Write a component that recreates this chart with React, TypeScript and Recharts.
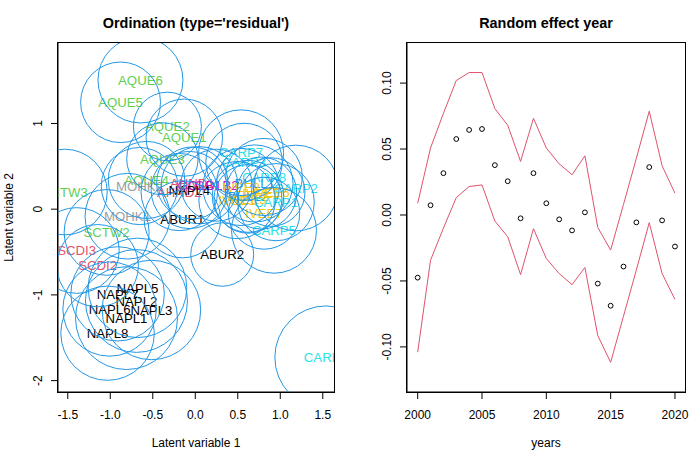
import React from 'react';
import { ComposedChart, Line, Scatter, ScatterChart, XAxis, YAxis } from 'recharts';

// ordination: site-year labels with their latent variable scores
const siteLabels = [
  'AQUE6', 'AQUE5', 'AQUE2', 'AQUE1', 'AQUE3', 'AQUE4', 'SCTW3', 'MOHK2', 'AHND2', 'AHND1',
  'GOLB1', 'GOLB2', 'NAPL4', 'CARP7', 'CARP3', 'CARP8', 'CARP2', 'BULL1', 'BULL2', 'IVEE2',
  'IVEE5', 'IVEE3', 'IVEE1', 'IVEE6', 'CARP1', 'IVEE7', 'CARP5', 'MOHK1', 'ABUR1', 'SCTW2',
  'SCDI3', 'SCDI2', 'ABUR2', 'NAPL5', 'NAPL7', 'NAPL2', 'NAPL6', 'NAPL3', 'NAPL1', 'NAPL8', 'CARP4',
];
const lv1 = [
  -0.645, -0.879, -0.328, -0.129, -0.387, -0.574, -1.536, -0.656, -0.188, -0.035,
  0.05, 0.25, -0.07, 0.539, 0.574, 0.809, 1.184, 0.7, 0.62, 0.539,
  0.774, 0.62, 0.492, 0.891, 0.95, 0.809, 0.926, -0.797, -0.152, -1.043,
  -1.395, -1.149, 0.317, -0.68, -0.914, -0.692, -1.008, -0.516, -0.809, -1.032, 1.536,
];
const lv2 = [
  1.506, 1.247, 0.965, 0.835, 0.588, 0.341, 0.2, 0.27, 0.2, 0.306,
  0.28, 0.28, 0.224, 0.659, 0.553, 0.376, 0.247, 0.3, 0.15, 0.259,
  0.188, 0.12, 0.106, 0.2, 0.082, -0.047, -0.247, -0.082, -0.118, -0.271,
  -0.482, -0.659, -0.529, -0.918, -0.988, -1.071, -1.165, -1.176, -1.271, -1.447, -1.729,
];
// approximate size of each prediction region (latent variable units)
const regionRadius = [
  0.5, 0.47, 0.4, 0.45, 0.42, 0.45, 0.5, 0.45, 0.45, 0.42,
  0.45, 0.42, 0.45, 0.5, 0.45, 0.45, 0.5, 0.45, 0.42, 0.45,
  0.42, 0.4, 0.45, 0.4, 0.45, 0.42, 0.5, 0.5, 0.45, 0.5,
  0.5, 0.48, 0.37, 0.58, 0.55, 0.6, 0.55, 0.58, 0.6, 0.55, 0.6,
];

const ordXTicks = [-1.5, -1, -0.5, 0, 0.5, 1, 1.5];
const ordYTicks = [-2, -1, 0, 1];

// year random effect with its interval
const years = [
  2000, 2001, 2002, 2003, 2004, 2005, 2006, 2007, 2008, 2009, 2010,
  2011, 2012, 2013, 2014, 2015, 2016, 2017, 2018, 2019, 2020,
];
const yearEffect = [
  -0.0475, 0.0074, 0.0317, 0.0576, 0.0645, 0.0652, 0.0378, 0.0256, -0.0025, 0.0317, 0.0089,
  -0.0033, -0.0117, 0.002, -0.052, -0.0688, -0.0391, -0.0056, 0.0363, -0.0041, -0.0239,
];
const upperBound = [
  0.0089, 0.0508, 0.077, 0.102, 0.108, 0.108, 0.0807, 0.068, 0.0406, 0.0733, 0.0508,
  0.0388, 0.0305, 0.0449, -0.0094, -0.0266, 0.008, 0.043, 0.0787, 0.0373, 0.0165,
];
const lowerBound = [
  -0.104, -0.0343, -0.01, 0.0132, 0.0216, 0.0228, -0.0046, -0.0165, -0.0452, -0.0104, -0.033,
  -0.0444, -0.0528, -0.0398, -0.0914, -0.1117, -0.0767, -0.0416, -0.0058, -0.0444, -0.064,
];

const yearTicks = [2000, 2005, 2010, 2015, 2020];
const effectTicks = [-0.1, -0.05, 0, 0.05, 0.1];

const siteColors: Record<string, string> = {
  ABUR: '#000000',
  AHND: '#DF536B',
  AQUE: '#61D04F',
  BULL: '#2297E6',
  CARP: '#28E2E5',
  GOLB: '#CD0BBC',
  IVEE: '#F5C710',
  MOHK: '#9E9E9E',
  NAPL: '#000000',
  SCDI: '#DF536B',
  SCTW: '#61D04F',
};

const FONT = '"Liberation Sans", Arial, Helvetica, sans-serif';
const CHART_W = 350;
const CHART_H = 450;
const Y_AXIS_W = 40;
const X_AXIS_H = 50;
const ordMargin = { top: 43, right: 16, bottom: 8, left: 18 };
const yearMargin = { top: 43, right: 15, bottom: 8, left: 17 };
const ORD_X_DOMAIN: [number, number] = [-1.615, 1.632];
const ORD_Y_DOMAIN: [number, number] = [-2.133, 1.939];
const YEAR_DOMAIN: [number, number] = [1999.17, 2020.78];
const EFFECT_DOMAIN: [number, number] = [-0.1342, 0.1304];

const ordPlotW = CHART_W - ordMargin.left - ordMargin.right - Y_AXIS_W;
const ordPlotH = CHART_H - ordMargin.top - ordMargin.bottom - X_AXIS_H;
const yearPlotW = CHART_W - yearMargin.left - yearMargin.right - Y_AXIS_W;
const pxPerX = ordPlotW / (ORD_X_DOMAIN[1] - ORD_X_DOMAIN[0]);
const pxPerY = ordPlotH / (ORD_Y_DOMAIN[1] - ORD_Y_DOMAIN[0]);

const ordData = siteLabels.map((label, i) => ({
  label,
  lv1: lv1[i],
  lv2: lv2[i],
  radius: regionRadius[i],
  color: siteColors[label.slice(0, 4)],
}));

const yearData = years.map((year, i) => ({
  year,
  effect: yearEffect[i],
  upper: upperBound[i],
  lower: lowerBound[i],
}));

const RotatedTick = (props: any) => {
  const { x, y, payload, format } = props;
  const tx = x - 8.5;
  return (
    <text
      x={tx}
      y={y}
      transform={`rotate(-90, ${tx}, ${y})`}
      textAnchor="middle"
      fontSize={12}
      fill="#000"
      fontFamily={FONT}
    >
      {format ? format(payload.value) : payload.value}
    </text>
  );
};

const YTitle = (props: any) => {
  const { viewBox, value } = props;
  if (!viewBox) return null;
  const tx = viewBox.x - 5.5;
  const ty = viewBox.y + viewBox.height / 2;
  return (
    <text
      x={tx}
      y={ty}
      transform={`rotate(-90, ${tx}, ${ty})`}
      textAnchor="middle"
      fontSize={12}
      fill="#000"
      fontFamily={FONT}
    >
      {value}
    </text>
  );
};

const SiteLabel = (props: any) => {
  const { cx, cy, payload } = props;
  return (
    <text
      x={cx}
      y={cy}
      dy="0.36em"
      textAnchor="middle"
      fontSize={13.2}
      fill={payload.color}
      fontFamily={FONT}
    >
      {payload.label}
    </text>
  );
};

const RegionCircle = (props: any) => {
  const { cx, cy, payload } = props;
  return (
    <ellipse
      cx={cx}
      cy={cy}
      rx={payload.radius * pxPerX}
      ry={payload.radius * pxPerY}
      fill="none"
      stroke="#2297E6"
      strokeWidth={1}
    />
  );
};

const OpenPoint = (props: any) => {
  const { cx, cy } = props;
  return <circle cx={cx} cy={cy} r={2.4} fill="none" stroke="#000" strokeWidth={1} />;
};

const titleStyle = (left: number, width: number): React.CSSProperties => ({
  position: 'absolute',
  left,
  top: 15,
  width,
  textAlign: 'center',
  fontWeight: 'bold',
  fontSize: 14.4,
  lineHeight: '16px',
  fontFamily: FONT,
  color: '#000',
});

// the plot frame that R draws around each panel
const frameStyle = (left: number, width: number): React.CSSProperties => ({
  position: 'absolute',
  left: left - 1,
  top: ordMargin.top - 1,
  width: width + 2,
  height: ordPlotH + 2,
  border: '1px solid #000',
  boxSizing: 'border-box',
});

const axisText = { fontSize: 12, fill: '#000', fontFamily: FONT };

export default function App() {
  return (
    <div style={{ position: 'absolute', left: 0, top: 0, width: 700, height: 450, background: '#fff' }}>
      <div style={titleStyle(58, ordPlotW)}>Ordination (type='residual')</div>
      <div style={titleStyle(350 + 57, yearPlotW)}>Random effect year</div>

      <div style={{ position: 'absolute', left: 0, top: 0 }}>
        <ScatterChart width={CHART_W} height={CHART_H} margin={ordMargin}>
          <XAxis
            type="number"
            dataKey="lv1"
            domain={ORD_X_DOMAIN}
            ticks={ordXTicks}
            allowDataOverflow
            height={X_AXIS_H}
            tickSize={7}
            tickMargin={11}
            tick={axisText}
            stroke="#000"
            tickFormatter={(v: number) => v.toFixed(1)}
            label={{ value: 'Latent variable 1', position: 'insideBottom', offset: -5, style: axisText }}
          />
          <YAxis
            type="number"
            dataKey="lv2"
            domain={ORD_Y_DOMAIN}
            ticks={ordYTicks}
            allowDataOverflow
            width={Y_AXIS_W}
            tickSize={7}
            tickMargin={0}
            stroke="#000"
            tick={<RotatedTick />}
            label={<YTitle value="Latent variable 2" />}
          />
          <Scatter data={ordData} shape={<SiteLabel />} isAnimationActive={false} />
          <Scatter data={ordData} shape={<RegionCircle />} isAnimationActive={false} />
        </ScatterChart>
      </div>

      <div style={{ position: 'absolute', left: 350, top: 0 }}>
        <ComposedChart width={CHART_W} height={CHART_H} margin={yearMargin} data={yearData}>
          <XAxis
            type="number"
            dataKey="year"
            domain={YEAR_DOMAIN}
            ticks={yearTicks}
            allowDataOverflow
            height={X_AXIS_H}
            tickSize={7}
            tickMargin={11}
            tick={axisText}
            stroke="#000"
            label={{ value: 'years', position: 'insideBottom', offset: -5, style: axisText }}
          />
          <YAxis
            type="number"
            domain={EFFECT_DOMAIN}
            ticks={effectTicks}
            allowDataOverflow
            width={Y_AXIS_W}
            tickSize={7}
            tickMargin={0}
            stroke="#000"
            tick={<RotatedTick format={(v: number) => v.toFixed(2)} />}
          />
          <Line dataKey="upper" stroke="#DF536B" strokeWidth={1} dot={false} isAnimationActive={false} />
          <Line dataKey="lower" stroke="#DF536B" strokeWidth={1} dot={false} isAnimationActive={false} />
          <Scatter dataKey="effect" shape={<OpenPoint />} isAnimationActive={false} />
        </ComposedChart>
      </div>

      <div style={frameStyle(ordMargin.left + Y_AXIS_W, ordPlotW)} />
      <div style={frameStyle(350 + yearMargin.left + Y_AXIS_W, yearPlotW)} />
    </div>
  );
}
